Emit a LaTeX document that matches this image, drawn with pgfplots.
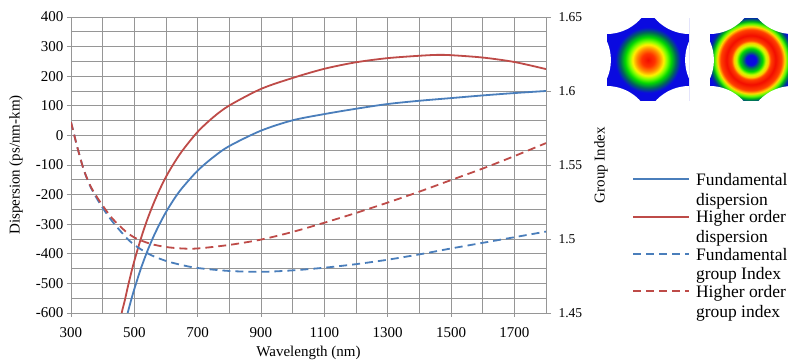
\documentclass[border=0pt]{standalone}
\usepackage{fontspec}
\setmainfont{Liberation Serif}
\usepackage{pgfplots}
\pgfplotsset{compat=1.18}
\definecolor{cblue}{RGB}{74,126,187}
\definecolor{cred}{RGB}{190,75,72}
\definecolor{cgrid}{RGB}{150,150,150}
\pgfdeclareradialshading{modeA}{\pgfpoint{0bp}{0bp}}{rgb(0bp)=(0.95,0.05,0); rgb(4bp)=(1,0.2,0); rgb(7bp)=(1,0.55,0); rgb(9.5bp)=(1,0.95,0); rgb(11.5bp)=(0.5,1,0); rgb(14bp)=(0,0.85,0); rgb(17bp)=(0,0.4,0.35); rgb(20bp)=(0.04,0.04,0.88); rgb(50bp)=(0.04,0.04,0.88)}
\pgfdeclareradialshading{modeB}{\pgfpoint{0bp}{0bp}}{rgb(0bp)=(0.04,0.04,0.88); rgb(3bp)=(0.04,0.04,0.88); rgb(5bp)=(0,0.5,0.3); rgb(7bp)=(0,0.85,0); rgb(9bp)=(0.8,1,0); rgb(10.5bp)=(1,0.8,0); rgb(12bp)=(1,0.25,0); rgb(15bp)=(0.95,0.05,0); rgb(18.5bp)=(1,0.25,0); rgb(20.5bp)=(1,0.85,0); rgb(22bp)=(0.4,1,0); rgb(23.5bp)=(0,0.7,0.1); rgb(25.5bp)=(0,0.2,0.6); rgb(27bp)=(0.04,0.04,0.88); rgb(50bp)=(0.04,0.04,0.88)}
\newcommand{\modeshape}[3]{%
\begin{scope}[shift={(#1,#2)}]
\clip (-41pt,-41pt) rectangle (41pt,41pt);
\shade[shading=#3] (-41pt,-41pt) rectangle (41pt,41pt);
\foreach \a in {0,60,...,300} \fill[white] (\a:83pt) circle (45.9pt);
\end{scope}}
\begin{document}
\begin{tikzpicture}
\path[use as bounding box] (0,0) rectangle (788pt,364pt);
\modeshape{648pt}{304pt}{modeA}
\modeshape{751pt}{304pt}{modeB}
\begin{axis}[
 at={(71pt,51pt)}, anchor=south west, scale only axis, width=475pt, height=296pt,
 xmin=300, xmax=1800, ymin=-600, ymax=400,
 xtick={300,500,...,1700}, minor x tick num=1,
 ytick={-600,-500,...,400}, minor y tick num=1,
 grid=both, grid style={cgrid, line width=0.9pt},
 axis line style={cgrid, line width=0.9pt},
 tick style={cgrid, line width=0.9pt},
 tick align=outside, major tick length=4pt, minor tick length=0pt,
 xtick pos=bottom, ytick pos=left,
 /pgf/number format/assume math mode=true,
 /pgf/number format/1000 sep={},
 ticklabel style={font=\fontsize{15}{18}\selectfont},
 xticklabel style={yshift=-7pt},
 xlabel={Wavelength (nm)}, ylabel={Dispersion (ps/nm-km)},
 label style={font=\fontsize{15}{18}\selectfont},
 xlabel style={at={(axis description cs:0.5,-0.135)}, anchor=center},
 ylabel style={at={(axis description cs:-0.1158,0.5)}, anchor=center},
]
\addplot[color=cblue, line width=1.8pt, mark=none, smooth] coordinates {
(465,-662) (479,-600) (490,-556) (500,-519) (520,-452) (540,-394) (560,-343) (580,-299) (600,-259) (625,-216) (650,-179) (700,-119) (750,-73) (800,-36) (900,16) (1000,51) (1100,72) (1200,90) (1300,106) (1400,117) (1500,126) (1600,135) (1700,143) (1800,150)};
\addplot[color=cred, line width=1.8pt, mark=none, smooth] coordinates {
(455,-636) (460,-600) (470,-557) (480,-509) (490,-465) (500,-424) (520,-351) (540,-287) (560,-232) (580,-183) (600,-140) (620,-103) (650,-54) (700,12) (750,62) (800,101) (900,157) (1000,194) (1100,225) (1200,247) (1300,261) (1400,269) (1456,272) (1500,271) (1600,263) (1700,248) (1800,224)};
\end{axis}
\begin{axis}[
 at={(71pt,51pt)}, anchor=south west, scale only axis, width=475pt, height=296pt,
 xmin=300, xmax=1800, ymin=1.45, ymax=1.65,
 axis x line=none, axis y line*=right,
 ytick={1.45,1.5,1.55,1.6,1.65},
 axis line style={cgrid, line width=0.9pt},
 tick style={cgrid, line width=0.9pt},
 tick align=outside, major tick length=5pt,
 /pgf/number format/assume math mode=true,
 yticklabel style={font=\fontsize{13.5}{16}\selectfont, xshift=4pt},
 ylabel={Group Index},
 ylabel style={at={(axis description cs:1.1158,0.5)}, anchor=center, font=\fontsize{15}{18}\selectfont},
 legend cell align=left,
 legend style={at={(axis description cs:1.1811,0.473)}, anchor=north west, draw=none, fill=none, inner sep=0pt, column sep=6pt, row sep=4pt, font=\fontsize{17.5}{19.7}\selectfont, nodes={align=left, inner sep=0pt}},
 legend image code/.code={\draw[#1] (0pt,10.5pt) -- (56pt,10.5pt); \path (0pt,-10.5pt);},
]
\addlegendimage{color=cblue, line width=1.8pt, solid}
\addlegendentry{Fundamental\\dispersion}
\addlegendimage{color=cred, line width=1.8pt, solid}
\addlegendentry{Higher order\\dispersion}
\addlegendimage{color=cblue, line width=1.8pt, dash pattern=on 8pt off 5pt}
\addlegendentry{Fundamental\\group Index}
\addlegendimage{color=cred, line width=1.8pt, dash pattern=on 8pt off 5pt}
\addlegendentry{Higher order\\group index}
\addplot[color=cblue, line width=1.8pt, dash pattern=on 8pt off 5pt, mark=none, smooth, forget plot] coordinates {
(300,1.579) (320,1.562) (340,1.547) (360,1.536) (380,1.528) (400,1.521) (430,1.512) (470,1.502) (500,1.496) (550,1.4894) (600,1.4852) (650,1.4824) (700,1.4804) (800,1.4784) (900,1.4778) (1000,1.4788) (1100,1.4806) (1200,1.483) (1300,1.486) (1400,1.4896) (1500,1.4936) (1600,1.4974) (1700,1.5012) (1800,1.505)};
\addplot[color=cred, line width=1.8pt, dash pattern=on 8pt off 5pt, mark=none, smooth, forget plot] coordinates {
(300,1.579) (320,1.562) (340,1.547) (360,1.5364) (380,1.529) (400,1.5226) (430,1.514) (470,1.5056) (500,1.501) (550,1.4968) (600,1.4946) (650,1.4936) (700,1.4936) (800,1.496) (900,1.4996) (1000,1.5048) (1100,1.511) (1200,1.5176) (1300,1.5246) (1400,1.532) (1500,1.5398) (1600,1.5476) (1700,1.556) (1800,1.5648)};
\end{axis}
\end{tikzpicture}
\end{document}
